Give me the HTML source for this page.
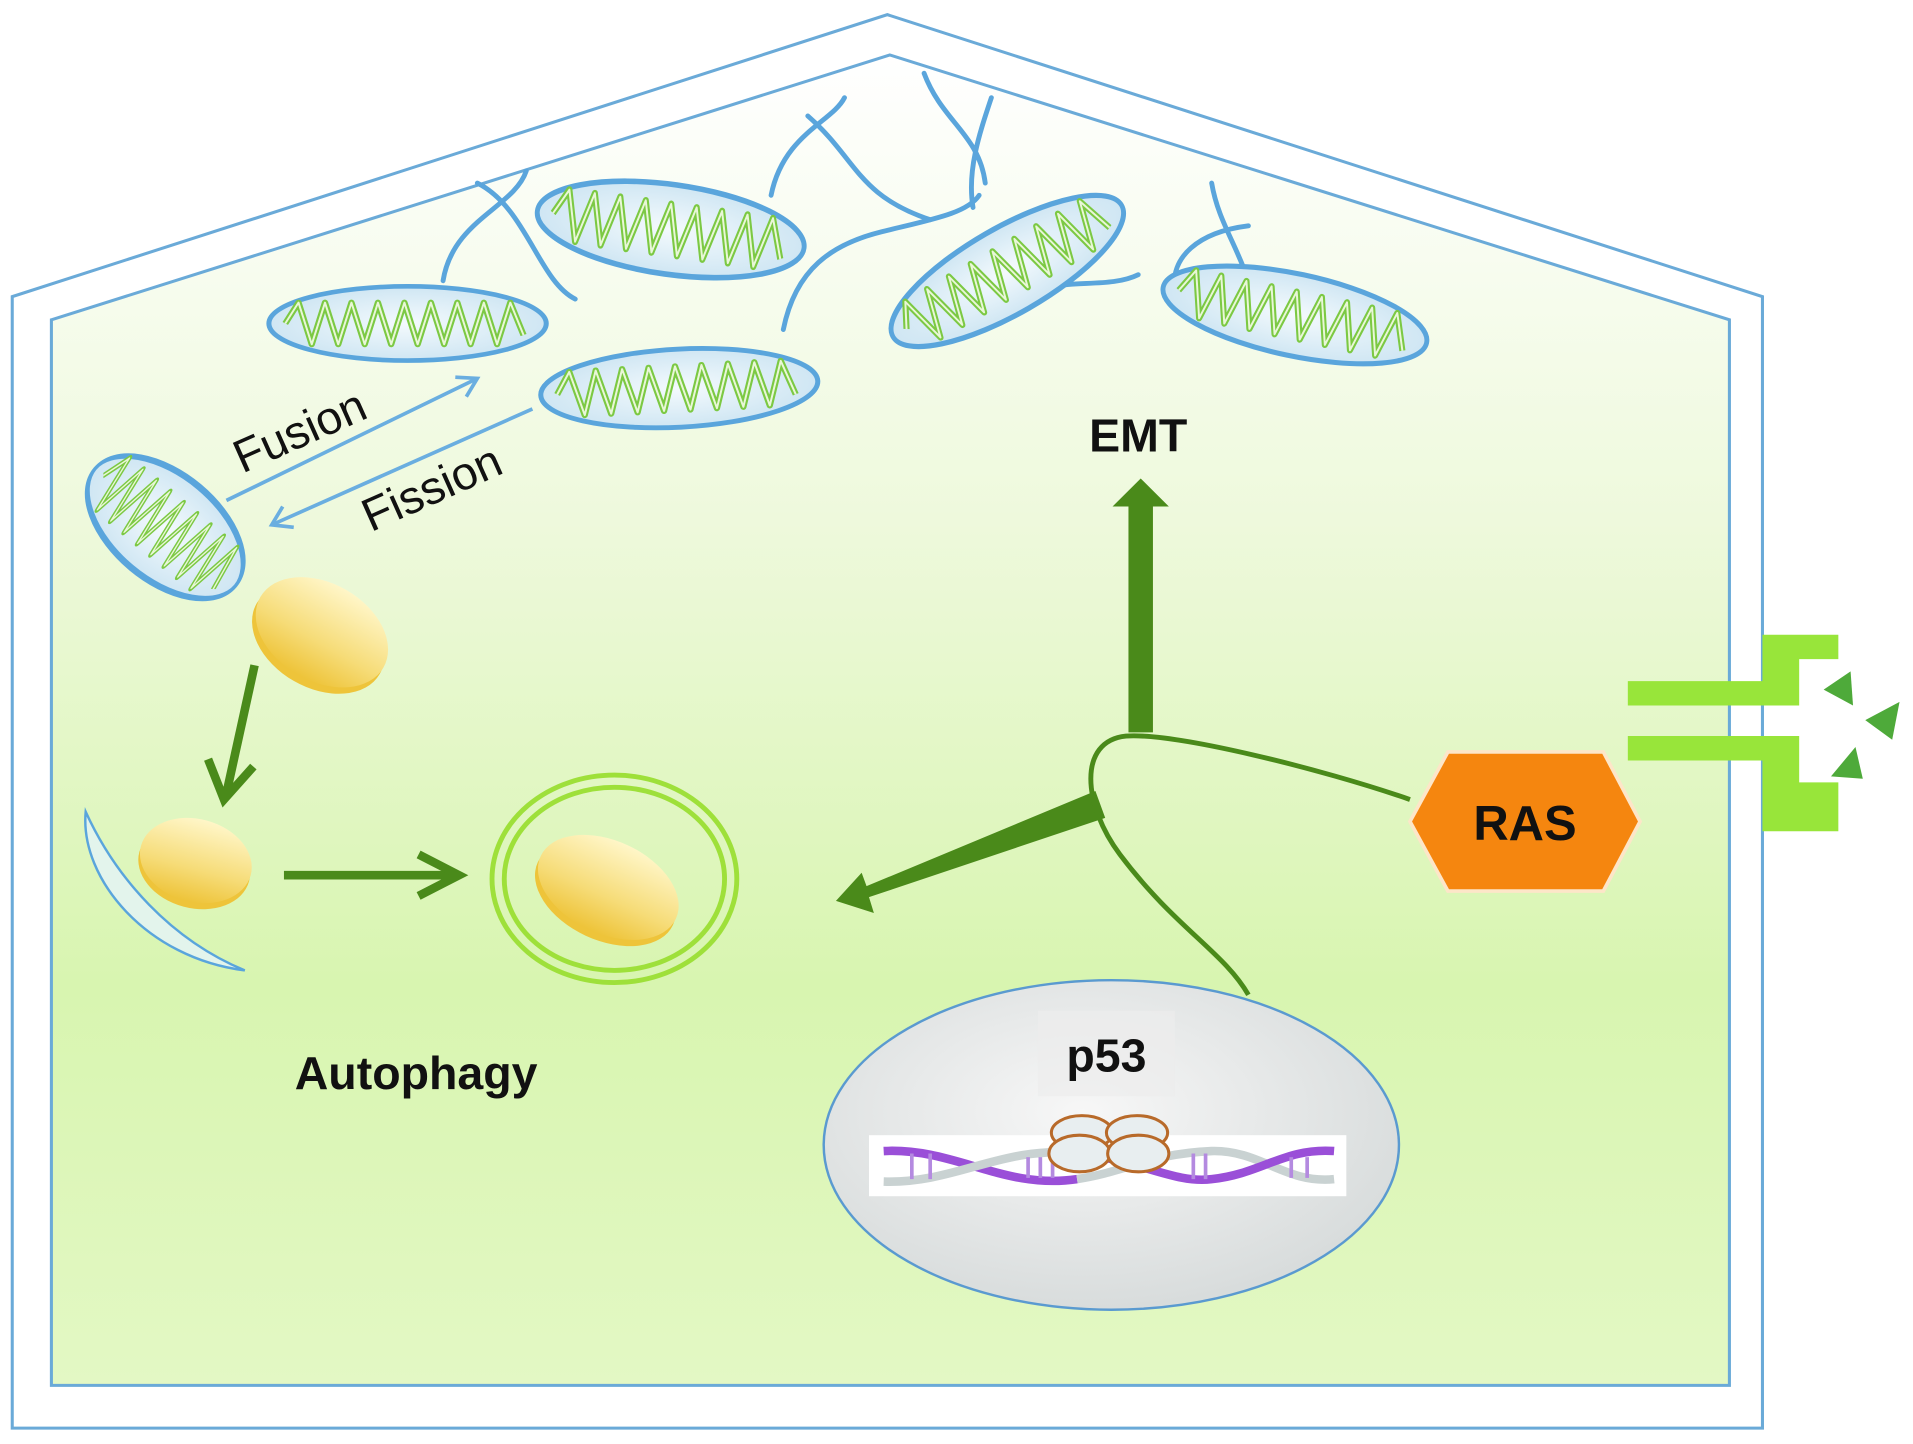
<!DOCTYPE html>
<html><head><meta charset="utf-8"><style>
html,body{margin:0;padding:0;background:#fff;width:1913px;height:1444px;overflow:hidden}
svg{display:block}
</style></head><body>
<svg width="1913" height="1444" viewBox="0 0 1563 1183" preserveAspectRatio="none" xmlns="http://www.w3.org/2000/svg">
<defs>
<linearGradient id="cell" x1="0" y1="0" x2="0" y2="1">
<stop offset="0" stop-color="#ffffff"/>
<stop offset="0.35" stop-color="#eef9dc"/>
<stop offset="0.7" stop-color="#d8f5b0"/>
<stop offset="1" stop-color="#e3f8c4"/>
</linearGradient>
<radialGradient id="nuc" cx="0.45" cy="0.4" r="0.6">
<stop offset="0" stop-color="#f7f7f7"/><stop offset="1" stop-color="#d8dcdc"/>
</radialGradient>
<linearGradient id="yel" x1="0" y1="0" x2="0" y2="1">
<stop offset="0" stop-color="#fff6c8"/><stop offset="0.6" stop-color="#f6dc78"/><stop offset="1" stop-color="#eec43a"/>
</linearGradient>
<radialGradient id="mfill" cx="0.5" cy="0.5" r="0.5">
<stop offset="0" stop-color="#f4fafd"/><stop offset="1" stop-color="#cfe6f3"/>
</radialGradient>
<g id="mito">
<ellipse cx="0" cy="0" rx="110" ry="32" fill="url(#mfill)" stroke="#5aa5dc" stroke-width="4"/>
<polyline points="-97,0 -86.5,-18 -76,18 -65.5,-18 -55,18 -44.5,-18 -34,18 -23.5,-18 -13,18 -2.5,-18 8,18 18.5,-18 29,18 39.5,-18 50,18 60.5,-18 71,18 81.5,-18 92,10" fill="none" stroke="#7cc943" stroke-width="5" stroke-linejoin="round"/>
<polyline points="-97,0 -86.5,-18 -76,18 -65.5,-18 -55,18 -44.5,-18 -34,18 -23.5,-18 -13,18 -2.5,-18 8,18 18.5,-18 29,18 39.5,-18 50,18 60.5,-18 71,18 81.5,-18 92,10" fill="none" stroke="#e9f7d8" stroke-width="1.6" stroke-linejoin="round"/>
</g>
<g id="yov">
<ellipse cx="0" cy="6" rx="58" ry="40" fill="#eec43a"/>
<ellipse cx="0" cy="0" rx="58" ry="40" fill="url(#yel)"/>
</g>
</defs>

<polygon points="10,243 725,12 1440,243 1440,1170 10,1170" fill="#fff" stroke="#6aaad8" stroke-width="2.5"/>
<polygon points="42,262 727,45 1413,262 1413,1135 42,1135" fill="url(#cell)" stroke="#6aaad8" stroke-width="2.5"/>

<g fill="none" stroke="#5aa5dc" stroke-width="4" stroke-linecap="round">
<path d="M362,230 C370,180 420,170 430,140"/>
<path d="M390,150 C430,170 440,230 470,245"/>
<path d="M630,160 C640,110 680,100 690,80"/>
<path d="M660,95 C700,130 700,160 760,180"/>
<path d="M640,270 C650,220 680,200 720,190 C760,180 790,175 800,160"/>
<path d="M755,60 C770,100 800,110 805,150"/>
<path d="M810,80 C800,110 790,140 795,170"/>
<path d="M960,240 C955,210 980,190 1020,185"/>
<path d="M990,150 C995,180 1010,200 1020,230"/>
<path d="M860,235 C880,230 910,235 930,225"/>
</g>

<use href="#mito" transform="translate(333,265) scale(1.03,0.95)"/>
<use href="#mito" transform="translate(548,188) rotate(8) scale(1.0,1.15)"/>
<use href="#mito" transform="translate(555,318) rotate(-3) scale(1.03,1.0)"/>
<use href="#mito" transform="translate(823,222) rotate(-30) scale(0.98,1.1)"/>
<use href="#mito" transform="translate(1058,258) rotate(12) scale(1.0,1.05)"/>
<use href="#mito" transform="translate(135,432) rotate(40) scale(0.68,1.35)"/>

<g stroke="#6aaee0" stroke-width="3" fill="none">
<line x1="185" y1="410" x2="390" y2="310"/>
<polyline points="372,309 390,310 381,325"/>
<line x1="435" y1="335" x2="222" y2="430"/>
<polyline points="240,432 222,430 231,415"/>
</g>
<text x="0" y="0" transform="translate(198,388) rotate(-24)" font-family="Liberation Sans, sans-serif" font-size="38" fill="#111">Fusion</text>
<text x="0" y="0" transform="translate(303,436) rotate(-24)" font-family="Liberation Sans, sans-serif" font-size="38" fill="#111">Fission</text>

<use href="#yov" transform="translate(263,518) rotate(30)"/>
<g stroke="#4a8a1a" stroke-width="7" fill="none">
<line x1="208" y1="545" x2="185" y2="650"/>
<polyline points="170,622 183,655 207,628"/>
<line x1="232" y1="717" x2="370" y2="717"/>
<polyline points="342,700 375,717 342,734"/>
</g>
<path d="M70,665 C65,720 120,785 200,795 C140,770 95,720 70,665 Z" fill="#e3f4ec" stroke="#5aa5dc" stroke-width="2"/>
<use href="#yov" transform="translate(160,705) rotate(15) scale(0.8,0.85)"/>
<ellipse cx="502" cy="720" rx="100" ry="85" fill="none" stroke="#9ee03a" stroke-width="4"/>
<ellipse cx="502" cy="720" rx="90" ry="75" fill="none" stroke="#9ee03a" stroke-width="4"/>
<use href="#yov" transform="translate(497,727) rotate(25) scale(1.05,0.95)"/>
<text x="340" y="892" text-anchor="middle" font-family="Liberation Sans, sans-serif" font-weight="bold" font-size="38" fill="#111">Autophagy</text>

<polygon points="922,600 942,600 942,415 955,415 932,392 909,415 922,415" fill="#4a8a1a"/>
<text x="930" y="370" text-anchor="middle" font-family="Liberation Sans, sans-serif" font-weight="bold" font-size="38" fill="#111">EMT</text>
<polygon points="895,648 903,670 710,735 714,748 683,738 704,715 708,726" fill="#4a8a1a"/>

<g stroke="#4a8a1a" stroke-width="4" fill="none">
<path d="M1152,655 C1080,630 960,600 920,603 C880,607 885,660 915,700 C960,760 1000,780 1020,815"/>
</g>

<polygon points="1152,673 1183,616 1310,616 1340,673 1310,730 1183,730" fill="#f5860f" stroke="#fde6c8" stroke-width="3"/>
<text x="1246" y="688" text-anchor="middle" font-family="Liberation Sans, sans-serif" font-weight="bold" font-size="40" fill="#111">RAS</text>

<g fill="#98e53a">
<polygon points="1330,558 1440,558 1440,520 1502,520 1502,540 1470,540 1470,578 1330,578"/>
<polygon points="1330,603 1470,603 1470,641 1502,641 1502,681 1440,681 1440,623 1330,623"/>
</g>
<g fill="#4eaa3a">
<polygon points="1490,565 1512,550 1514,578"/>
<polygon points="1524,590 1552,575 1546,606"/>
<polygon points="1496,636 1516,612 1522,638"/>
</g>

<ellipse cx="908" cy="938" rx="235" ry="135" fill="url(#nuc)" stroke="#5a9ad0" stroke-width="2"/>
<rect x="848" y="828" width="112" height="70" fill="#ececec" opacity="0.7"/>
<text x="904" y="878" text-anchor="middle" font-family="Liberation Sans, sans-serif" font-weight="bold" font-size="38" fill="#111">p53</text>
<rect x="710" y="930" width="390" height="50" fill="#ffffff"/>
<g fill="none" stroke-width="7">
<path d="M722,943 C780,940 820,975 880,966" stroke="#9a4fd8"/>
<path d="M722,968 C780,970 820,938 880,945" stroke="#c9d2d2"/>
<path d="M880,966 C920,960 940,945 990,943 C1030,942 1050,970 1090,966" stroke="#c9d2d2"/>
<path d="M880,945 C930,950 960,970 990,966 C1030,962 1050,940 1090,943" stroke="#9a4fd8"/>
</g>
<g stroke="#b48ae0" stroke-width="3">
<line x1="745" y1="945" x2="745" y2="966"/><line x1="760" y1="945" x2="760" y2="966"/>
<line x1="840" y1="948" x2="840" y2="965"/><line x1="850" y1="948" x2="850" y2="965"/><line x1="860" y1="948" x2="860" y2="965"/>
<line x1="975" y1="945" x2="975" y2="966"/><line x1="985" y1="945" x2="985" y2="966"/>
<line x1="1055" y1="948" x2="1055" y2="965"/><line x1="1068" y1="948" x2="1068" y2="965"/>
</g>
<g fill="#e8eef0" stroke="#b86a2a" stroke-width="2.5">
<ellipse cx="884" cy="928" rx="25" ry="14"/>
<ellipse cx="929" cy="928" rx="25" ry="14"/>
<ellipse cx="882" cy="945" rx="25" ry="15"/>
<ellipse cx="930" cy="945" rx="25" ry="15"/>
</g>
</svg>
</body></html>
